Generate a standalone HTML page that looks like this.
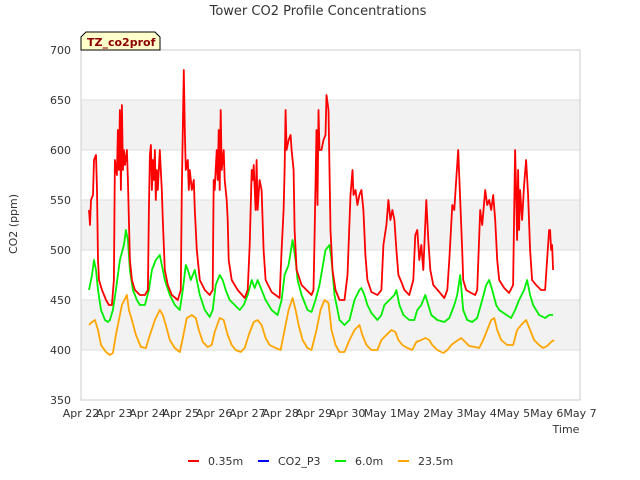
<!DOCTYPE html>
<html><head><meta charset="utf-8"><style>
html,body{margin:0;padding:0;background:#fff;}
svg{display:block;font-family:"DejaVu Sans","Liberation Sans",sans-serif;}
</style></head><body>
<svg id="chart" width="640" height="480" viewBox="0 0 640 480">
<text x="318" y="15" text-anchor="middle" font-size="13" fill="#333">Tower CO2 Profile Concentrations</text>
<g id="bands"></g>
<g id="grid"></g>
<rect x="81" y="50" width="499" height="350" fill="none" stroke="#ccc"/>
<g id="series"></g>
<g id="yticks"></g>
<g id="xticks"></g>
<text transform="translate(17,224) rotate(-90)" text-anchor="middle" font-size="11" fill="#333">CO2 (ppm)</text>
<text x="566" y="433" text-anchor="middle" font-size="11" fill="#333">Time</text>
<g>
<path d="M81,50 L81,37 L86,32 L155,32 L160,37 L160,50 Z" fill="#ffffcc" stroke="#000" stroke-width="1"/>
<text x="87" y="46" font-size="11" font-weight="bold" fill="#8b0000">TZ_co2prof</text>
</g>
<g id="legend"></g>
</svg>
<script>
const yTicks=[350,400,450,500,550,600,650,700];
const xTickLabels=["Apr 22","Apr 23","Apr 24","Apr 25","Apr 26","Apr 27","Apr 28","Apr 29","Apr 30","May 1","May 2","May 3","May 4","May 5","May 6","May 7"];
const seriesNames=["0.35m","CO2_P3","6.0m","23.5m"];
const seriesColors=["#ff0000","#0000ff","#00ee00","#ffa500"];
const redT=[.24,.27,.30,.36,.39,.45,.48,.51,.54,.63,.75,.84,.93,.99,1.02,1.08,1.11,1.14,1.17,1.20,1.23,1.26,1.29,1.32,1.38,1.41,1.44,1.47,1.53,1.62,1.77,1.92,2.01,2.04,2.07,2.10,2.13,2.16,2.19,2.22,2.25,2.28,2.31,2.37,2.43,2.46,2.52,2.61,2.73,2.91,3.00,3.03,3.09,3.12,3.15,3.21,3.24,3.27,3.33,3.39,3.42,3.48,3.57,3.72,3.87,3.96,3.99,4.02,4.08,4.11,4.14,4.17,4.20,4.23,4.29,4.32,4.38,4.41,4.44,4.53,4.71,4.92,5.01,5.07,5.13,5.16,5.19,5.25,5.28,5.31,5.37,5.43,5.49,5.55,5.73,5.97,6.03,6.09,6.12,6.15,6.18,6.24,6.30,6.33,6.39,6.42,6.48,6.63,6.93,6.99,7.02,7.08,7.11,7.14,7.17,7.23,7.29,7.35,7.38,7.44,7.47,7.50,7.56,7.65,7.77,7.92,8.01,8.10,8.16,8.19,8.25,8.31,8.37,8.43,8.49,8.55,8.61,8.73,8.91,9.03,9.09,9.18,9.24,9.30,9.36,9.42,9.48,9.54,9.63,9.72,9.87,9.99,10.05,10.11,10.17,10.23,10.29,10.38,10.44,10.50,10.59,10.77,10.92,11.01,11.07,11.16,11.22,11.28,11.34,11.40,11.46,11.49,11.58,11.73,11.85,11.91,12.00,12.06,12.15,12.21,12.27,12.33,12.39,12.45,12.51,12.57,12.72,12.87,12.99,13.05,13.08,13.11,13.14,13.17,13.20,13.26,13.32,13.38,13.44,13.50,13.56,13.68,13.83,13.95,14.01,14.07,14.10,14.13,14.16,14.19];
const redV=[540,525,550,555,590,595,560,490,470,460,450,445,445,470,590,575,620,580,640,560,645,580,600,585,600,570,530,490,470,460,455,455,460,540,595,605,560,590,570,600,550,580,560,600,560,530,480,465,455,450,460,560,680,620,580,590,560,580,560,570,540,500,470,460,455,460,570,560,600,570,620,560,640,580,600,570,550,530,490,470,460,452,460,505,580,570,585,540,590,540,570,560,500,470,458,452,500,540,580,640,600,610,615,600,580,520,480,465,455,460,510,620,545,640,600,600,610,615,655,640,580,520,480,460,450,450,475,555,580,555,560,545,555,560,540,495,470,458,455,460,505,525,550,530,540,530,500,475,468,460,455,470,515,520,490,505,480,550,510,480,465,458,452,460,490,545,540,570,600,550,500,470,460,457,455,460,540,525,560,545,550,540,555,530,490,470,462,457,465,600,560,510,580,520,560,530,565,590,555,500,470,465,460,460,490,520,520,500,505,480];
const p3T=[];
const p3V=[];
const greenT=[.24,.33,.39,.45,.51,.60,.72,.81,.87,.96,1.05,1.17,1.29,1.35,1.41,1.47,1.56,1.68,1.77,1.92,2.04,2.13,2.25,2.37,2.43,2.52,2.67,2.82,2.97,3.06,3.15,3.21,3.30,3.42,3.48,3.57,3.72,3.87,3.96,4.05,4.17,4.26,4.35,4.47,4.62,4.77,4.89,5.01,5.13,5.22,5.31,5.43,5.55,5.73,5.91,6.03,6.12,6.24,6.36,6.45,6.51,6.63,6.81,6.93,7.05,7.17,7.35,7.47,7.53,7.62,7.77,7.92,8.07,8.22,8.37,8.43,8.52,8.61,8.73,8.91,9.03,9.12,9.27,9.42,9.48,9.57,9.69,9.87,10.02,10.11,10.23,10.35,10.44,10.53,10.71,10.92,11.07,11.22,11.31,11.40,11.49,11.61,11.76,11.91,12.06,12.18,12.27,12.36,12.48,12.57,12.75,12.93,13.05,13.17,13.32,13.41,13.50,13.59,13.77,13.95,14.07,14.19];
const greenV=[460,475,490,480,460,440,430,428,430,440,460,490,505,520,510,480,460,450,445,445,460,480,490,495,485,470,455,445,440,460,485,480,470,480,470,455,440,433,440,465,475,470,460,450,445,440,445,455,470,462,470,460,450,440,435,450,475,485,510,490,470,455,440,438,450,465,500,505,490,455,430,425,430,450,460,462,455,445,437,430,435,445,450,455,460,445,435,430,430,440,445,455,445,435,430,428,432,445,455,475,440,430,428,432,450,465,470,460,445,440,436,432,440,450,460,470,455,445,435,432,435,435];
const orangeT=[.24,.33,.42,.51,.60,.75,.87,.96,1.05,1.14,1.23,1.38,1.44,1.53,1.65,1.80,1.95,2.07,2.22,2.37,2.46,2.55,2.67,2.82,2.97,3.06,3.18,3.33,3.45,3.54,3.66,3.81,3.93,4.02,4.17,4.29,4.41,4.53,4.65,4.80,4.92,5.04,5.19,5.31,5.43,5.55,5.67,5.85,6.00,6.12,6.24,6.36,6.45,6.54,6.66,6.81,6.93,7.08,7.20,7.32,7.44,7.53,7.65,7.77,7.92,8.07,8.22,8.37,8.46,8.58,8.73,8.91,9.03,9.18,9.33,9.45,9.54,9.66,9.81,9.96,10.08,10.23,10.35,10.47,10.56,10.71,10.89,11.01,11.13,11.25,11.43,11.55,11.67,11.85,11.97,12.09,12.21,12.33,12.42,12.51,12.63,12.81,12.99,13.11,13.23,13.38,13.50,13.62,13.77,13.89,14.01,14.13,14.22];
const orangeV=[425,428,430,420,405,398,395,397,415,430,445,455,440,430,415,403,402,415,430,440,435,425,410,402,398,412,432,435,432,420,408,403,405,418,432,430,415,405,400,398,402,415,428,430,425,412,405,402,400,420,440,452,440,425,410,402,400,420,440,450,447,420,405,398,398,410,420,425,415,405,400,400,410,415,420,418,410,405,402,400,408,410,412,410,405,400,397,400,405,408,412,408,404,403,402,410,420,430,432,420,410,405,405,420,425,430,420,410,405,402,404,408,410];

const NS='http://www.w3.org/2000/svg';
const X0=81,X1=580,Y0=400,Y1=50,DMIN=0,DMAX=15,VMIN=350,VMAX=700;
function xs(d){return X0+(d-DMIN)/(DMAX-DMIN)*(X1-X0);}
function ys(v){return Y0-(v-VMIN)/(VMAX-VMIN)*(Y0-Y1);}
function mk(tag,attrs,parent){const e=document.createElementNS(NS,tag);for(const k in attrs)e.setAttribute(k,attrs[k]);parent.appendChild(e);return e;}

const bands=document.getElementById('bands'),grid=document.getElementById('grid'),yt=document.getElementById('yticks'),xt=document.getElementById('xticks');
for(let i=0;i<yTicks.length-1;i++){
  if(i%2===1){
    const r=mk('rect',{x:X0,y:ys(yTicks[i+1]),width:X1-X0,height:ys(yTicks[i])-ys(yTicks[i+1]),fill:'#f2f2f2'},bands);
    
    
  }
}
yTicks.forEach(v=>{
  const l=mk('line',{x1:X0,x2:X1,y1:ys(v),y2:ys(v),stroke:'#dddddd','stroke-width':1},grid);
  
  
  const t=mk('text',{x:X0-10,y:ys(v)+4,'text-anchor':'end','font-size':11,fill:'#333'},yt);
  t.textContent=v;
  
  
});
xTickLabels.forEach((s,i)=>{
  const t=mk('text',{x:xs(i),y:417,'text-anchor':'middle','font-size':11,fill:'#333'},xt);
  t.textContent=s;
  
  
});
const ser=document.getElementById('series');
const all=[[redT,redV],[p3T,p3V],[greenT,greenV],[orangeT,orangeV]];
const order=[2,3,1,0];
order.forEach(i=>{
  const [T,V]=all[i];
  if(!T.length)return;
  const pts=T.map((d,k)=>xs(d).toFixed(1)+','+ys(V[k]).toFixed(1)).join(' ');
  const p=mk('polyline',{points:pts,fill:'none',stroke:seriesColors[i],'stroke-width':1.8,'stroke-linejoin':'round'},ser);
  
  
});
const leg=document.getElementById('legend');
const legX=[188,258,335,398];
seriesNames.forEach((n,i)=>{
  const g=mk('g',{},leg);
  
  
  mk('line',{x1:legX[i],x2:legX[i]+11,y1:461,y2:461,stroke:seriesColors[i],'stroke-width':2},g);
  const t=mk('text',{x:legX[i]+20,y:465,'font-size':11,fill:'#333'},g);
  t.textContent=n;
});
</script>
</body></html>
